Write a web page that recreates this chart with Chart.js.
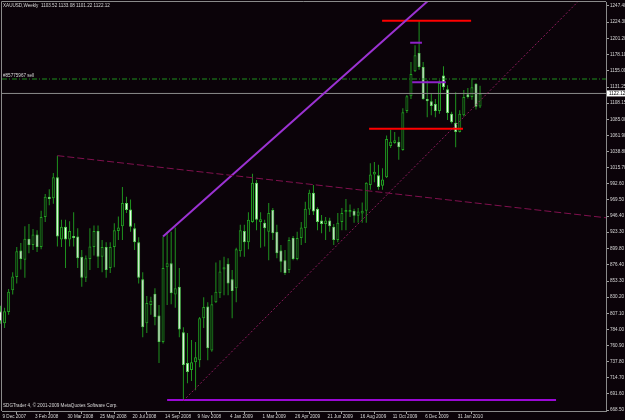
<!DOCTYPE html>
<html>
<head>
<meta charset="utf-8">
<script src="https://cdn.jsdelivr.net/npm/chart.js@4.4.0/dist/chart.umd.min.js"></script>
<style>
html,body{margin:0;padding:0;background:#0b0309;}
#wrap{width:625px;height:420px;position:relative;}
</style>
</head>
<body>
<div id="wrap"><canvas id="c" width="625" height="420"></canvas></div>
<script>
// ---- Weekly XAUUSD bars (bar index 0 = week of 9 Dec 2007) ----
const opens  = [810,793,809,840,859,897,884,914,905,920,902,945,974,972,1002,913,931,913,918,917,
                888,858,885,902,925,888,902,872,902,925,932,965,956,929,909,856,793,819,835,804,
                766,873,879,834,845,780,736,726,737,740,800,817,754,823,836,870,878,856,843,896,
                925,909,938,994,938,937,924,955,924,897,883,869,915,885,915,929,956,980,957,940,
                935,940,931,912,938,952,952,954,947,950,954,991,1006,1005,990,1002,1047,1051,1053,1041,
                1097,1118,1154,1180,1160,1114,1111,1107,1097,1148,1128,1093,1080,1067,1091,1121,1117,1136,1103.52];
const highs  = [818,815,842,866,902,908,932,935,928,926,954,978,985,1008,1033,941,941,939,952,929,
                898,890,929,933,933,912,909,909,936,946,988,974,970,936,916,866,832,831,843,819,
                917,924,924,930,872,787,779,769,766,802,830,823,833,880,883,888,886,869,901,934,
                934,952,1007,998,952,941,965,958,934,905,898,916,918,924,938,967,984,991,959,948,
                945,944,935,951,958,971,963,957,958,966,995,1022,1024,1020,1015,1062,1070,1067,1060,1101,
                1120,1167,1191,1226,1167,1141,1122,1114,1141,1161,1134,1096,1124,1098,1127,1130,1144,1137,1133.08];
const lows   = [792,786,805,834,850,870,858,893,898,895,899,938,962,964,903,902,872,903,903,872,
                845,852,869,890,872,866,858,865,873,912,912,951,924,898,850,773,779,805,790,736,
                764,819,820,815,773,682,707,710,697,730,786,740,752,822,829,833,833,800,823,888,
                888,899,937,926,901,903,883,912,886,866,862,865,883,883,905,908,948,948,926,922,
                912,924,905,909,926,926,945,937,937,937,937,984,995,984,984,1001,1044,1050,1027,1040,
                1094,1114,1153,1156,1113,1088,1091,1088,1093,1127,1084,1079,1045,1066,1089,1115,1113,1099,1101.22];
const closes = [796,810,838,860,896,885,914,905,920,902,945,974,971,1002,917,931,913,925,915,886,
                858,886,903,925,888,902,869,902,926,930,965,955,931,909,858,787,822,825,802,766,
                872,879,836,843,784,733,723,737,744,800,816,757,820,838,867,873,850,839,899,926,
                909,941,994,941,942,929,951,922,893,881,865,912,885,915,930,957,980,953,938,935,
                940,932,912,937,951,955,955,947,953,954,994,1006,1010,988,999,1057,1053,1055,1045,1095,
                1118,1150,1177,1160,1114,1111,1104,1097,1137,1131,1094,1081,1067,1093,1117,1117,1131,1103,1122.12];

// ---- axis labels ----
const dateTickBars = [0,8,16,24,32,40,48,56,64,72,80,88,96,104,112];
const dateLabels = ['9 Dec 2007','3 Feb 2008','30 Mar 2008','25 May 2008','20 Jul 2008','14 Sep 2008',
                    '9 Nov 2008','4 Jan 2009','1 Mar 2009','26 Apr 2009','21 Jun 2009','16 Aug 2009',
                    '11 Oct 2009','6 Dec 2009','31 Jan 2010'];
const priceTickLabels = ['1247.40','1224.30','1201.20','1178.10','1155.00','1131.25','1108.15','1085.00',
                         '1061.90','1038.80','1015.70','992.60','969.50','946.40','923.30','899.80',
                         '876.40','853.30','830.20','807.10','784.00','760.90','737.80','714.70','691.60','668.50'];

// ---- drawn objects (bar index, price) ----
const channelTop   = [{x:40,y:917},{x:106,y:1259}];
const supportLow   = [{x:41,y:683},{x:136.7,y:683}];
const redHigh      = [{x:93.9,y:1226.3},{x:115.8,y:1226.3}];
const redLow       = [{x:90.7,y:1071.6},{x:113.8,y:1071.6}];
const purpleShort1 = [{x:100.8,y:1194.8},{x:103.7,y:1194.8}];
const purpleShort2 = [{x:101.3,y:1138.1},{x:109.6,y:1138.1}];
const dashedTrend  = [{x:14,y:1033},{x:149,y:944}];
const dottedTrend  = [{x:45,y:682},{x:143,y:1259}];
const sellPrice = 1142.8;
const sellLabel = '#85775967 sell';
const titleText = 'XAUUSD,Weekly  1103.52 1133.08 1101.22 1122.12';
const copyText = 'SDGTrader 4, \u00A9 2001-2009 MetaQuotes Software Corp.';

// ---- scale ranges ----
const xMin = 0.369, xMax = 148.99;
const yMin = 667.17, yMax = 1253.13;

const FONT = 'Liberation Sans, Arial, sans-serif';
const lastClose = closes[closes.length-1];

const bodyData = opens.map((o,i)=>({x:i, y:[Math.min(o,closes[i]), Math.max(o,closes[i])]}));
const wickData = highs.map((h,i)=>({x:i, y:[lows[i], h]}));
const bull = opens.map((o,i)=>closes[i] >= o);

function lineDs(data, color, width, dash){
  return {type:'line', data, borderColor:color, borderWidth:width, borderDash:dash||[],
          pointRadius:0, fill:false, tension:0, order:-1, clip:0};
}

const mtPlugin = {
  id:'mt',
  beforeDraw(chart){
    const c = chart.ctx;
    c.save(); c.fillStyle = '#0b0309'; c.fillRect(0,0,chart.width,chart.height); c.restore();
  },
  afterDraw(chart){
    const c = chart.ctx, y = chart.scales.y, a = chart.chartArea;
    c.save();
    c.strokeStyle = '#8a8a8a'; c.lineWidth = 1;
    c.beginPath(); c.moveTo(1.5, a.bottom); c.lineTo(1.5, 1.5); c.lineTo(a.right, 1.5); c.stroke();
    c.font = '4.6px ' + FONT; c.textBaseline = 'middle'; c.fillStyle = '#d8d8d8';
    c.fillText(titleText, 3, 5.5);
    c.fillText(sellLabel, 3, y.getPixelForValue(sellPrice) - 3);
    c.fillText(copyText, 3, 406);
    const py = y.getPixelForValue(lastClose);
    c.fillStyle = '#ffffff'; c.fillRect(607, py - 3, 18, 6);
    c.fillStyle = '#000000'; c.fillText(lastClose.toFixed(2), 609, py + 0.3);
    c.restore();
  }
};

new Chart(document.getElementById('c'), {
  type:'bar',
  data:{
    datasets:[
      {label:'body', data:bodyData, barThickness:3, minBarLength:1, grouped:false,
       backgroundColor: bull.map(b=>b ? '#0a160a' : '#f2fff2'),
       borderColor: bull.map(b=>b ? '#22a022' : '#5ad25a'),
       borderWidth:1, borderSkipped:false, inflateAmount:0, order:0, clip:false},
      {label:'wick', data:wickData, barThickness:1, grouped:false,
       backgroundColor:'#1f931f', borderWidth:0, inflateAmount:0, order:1, clip:false},
      lineDs(dashedTrend, '#80104e', 1, [7,3]),
      lineDs(dottedTrend, '#8c1a5c', 1, [2,2]),
      lineDs(channelTop, '#9b32d2', 2),
      lineDs(supportLow, '#9a08d6', 2),
      lineDs(redHigh, '#ff0000', 2),
      lineDs(redLow, '#ff0000', 2),
      lineDs(purpleShort1, '#8e22c8', 2),
      lineDs(purpleShort2, '#8e22c8', 2),
      lineDs([{x:xMin,y:sellPrice},{x:xMax,y:sellPrice}], '#1e8e1e', 1, [5,2,1,2]),
      lineDs([{x:xMin,y:lastClose},{x:xMax,y:lastClose}], '#8c8c8c', 1)
    ]
  },
  options:{
    responsive:false, animation:false, devicePixelRatio:1,
    layout:{padding:{left:2, top:2, right:0, bottom:0}},
    plugins:{legend:{display:false}, tooltip:{enabled:false}},
    scales:{
      x:{type:'linear', min:xMin, max:xMax, offset:false, position:'bottom',
         grid:{display:true, drawOnChartArea:false, drawTicks:true, tickLength:3, color:'#a0a0a0'},
         border:{display:true, color:'#8a8a8a'},
         ticks:{autoSkip:false, maxRotation:0, minRotation:0, align:'start', padding:0, labelOffset:2,
                color:'#d8d8d8', font:{size:4.6, family:FONT},
                callback:(v)=>{const k = dateTickBars.indexOf(v); return k>=0 ? dateLabels[k] : '';}},
         afterBuildTicks:(s)=>{ s.ticks = dateTickBars.map(v=>({value:v})); },
         afterFit:(s)=>{ s.height = 9; s.paddingLeft = 0; s.paddingRight = 0; }},
      y:{type:'linear', position:'right', min:yMin, max:yMax,
         grid:{display:true, drawOnChartArea:false, drawTicks:true, tickLength:3, color:'#a0a0a0'},
         border:{display:true, color:'#8a8a8a'},
         ticks:{padding:1, color:'#d8d8d8', font:{size:4.6, family:FONT},
                callback:(v)=>{const t = priceTickLabels.find(s=>parseFloat(s)===v); return t || '';}},
         afterBuildTicks:(s)=>{ s.ticks = priceTickLabels.map(t=>({value:parseFloat(t)})).reverse(); },
         afterFit:(s)=>{ s.width = 19; s.paddingTop = 0; s.paddingBottom = 0; }}
    }
  },
  plugins:[mtPlugin]
});
</script>
</body>
</html>
